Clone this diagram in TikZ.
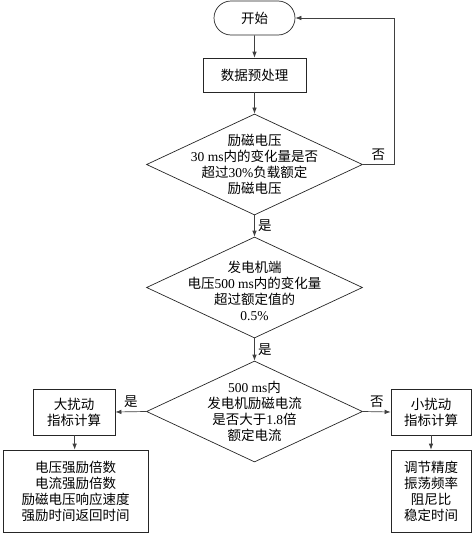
\documentclass[tikz,border=0pt]{standalone}
\usepackage{fontspec}
\setmainfont{Liberation Serif}
\newfontfamily\cjk{Noto Sans CJK SC}
\usetikzlibrary{arrows.meta,shapes.geometric,shapes.misc}
\newcommand{\rmnum}[1]{{\rmfamily #1}}

\begin{document}
\begin{tikzpicture}[x=1pt,y=-1pt,
  every node/.style={font=\cjk\fontsize{13.5}{16}\selectfont},
  flowline/.style={draw=black!75,line width=0.7pt,-{Latex[length=6pt,width=4.5pt]}},
  box/.style={draw=black!85,line width=0.7pt,rectangle,inner sep=0pt,align=center},
  decision/.style={draw=black!85,line width=0.7pt,diamond,minimum width=216pt,minimum height=101pt,inner sep=0pt},
  txt/.style={align=center,inner sep=0pt}]
  \useasboundingbox (0,0) rectangle (472,533);
  % Start and preprocessing
  \node[box,rounded rectangle,minimum width=81pt,minimum height=34pt] (start) at (254.5,18) {开始};
  \node[box,minimum width=103pt,minimum height=34pt] (prep) at (254.5,75) {数据预处理};
  % Three decisions
  \node[decision,label={[txt]center:{励磁电压\\\rmnum{30 ms}内的变化量是否\\超过\rmnum{30\%}负载额定\\励磁电压}}] (dexc) at (254.5,164.5) {};
  \node[decision,label={[txt,yshift=-3pt]center:{发电机端\\电压\rmnum{500 ms}内的变化量\\超过额定值的\\\rmnum{0.5\%}}}] (dgen) at (254.5,287.5) {};
  \node[decision,label={[txt]center:{\rmnum{500 ms}内\\发电机励磁电流\\是否大于\rmnum{1.8}倍\\额定电流}}] (dcur) at (254.5,411.5) {};
  % Large and small disturbance branches
  \node[box,minimum width=82pt,minimum height=46pt] (big) at (74,412) {大扰动\\指标计算};
  \node[box,minimum width=80pt,minimum height=46pt] (small) at (431,412) {小扰动\\指标计算};
  \node[box,minimum width=145pt,minimum height=82pt] (bigres) at (75.5,491) {电压强励倍数\\电流强励倍数\\励磁电压响应速度\\强励时间返回时间};
  \node[box,minimum width=80pt,minimum height=82pt] (smallres) at (431,491) {调节精度\\振荡频率\\阻尼比\\稳定时间};
  % Connectors
  \coordinate (loop) at (394,0);
  \draw[flowline] (start) -- (prep);
  \draw[flowline] (prep) -- (dexc);
  \draw[flowline] (dexc) -- node[right]{是} (dgen);
  \draw[flowline] (dgen) -- node[right]{是} (dcur);
  \draw[flowline] (dexc.east) -- node[above]{否} (dexc.east -| loop) |- (start.east);
  \draw[flowline] (dcur.west) -- node[above]{是} (big.east);
  \draw[flowline] (dcur.east) -- node[above]{否} (small.west);
  \draw[flowline] (big) -- (bigres);
  \draw[flowline] (small) -- (smallres);
\end{tikzpicture}
\end{document}
